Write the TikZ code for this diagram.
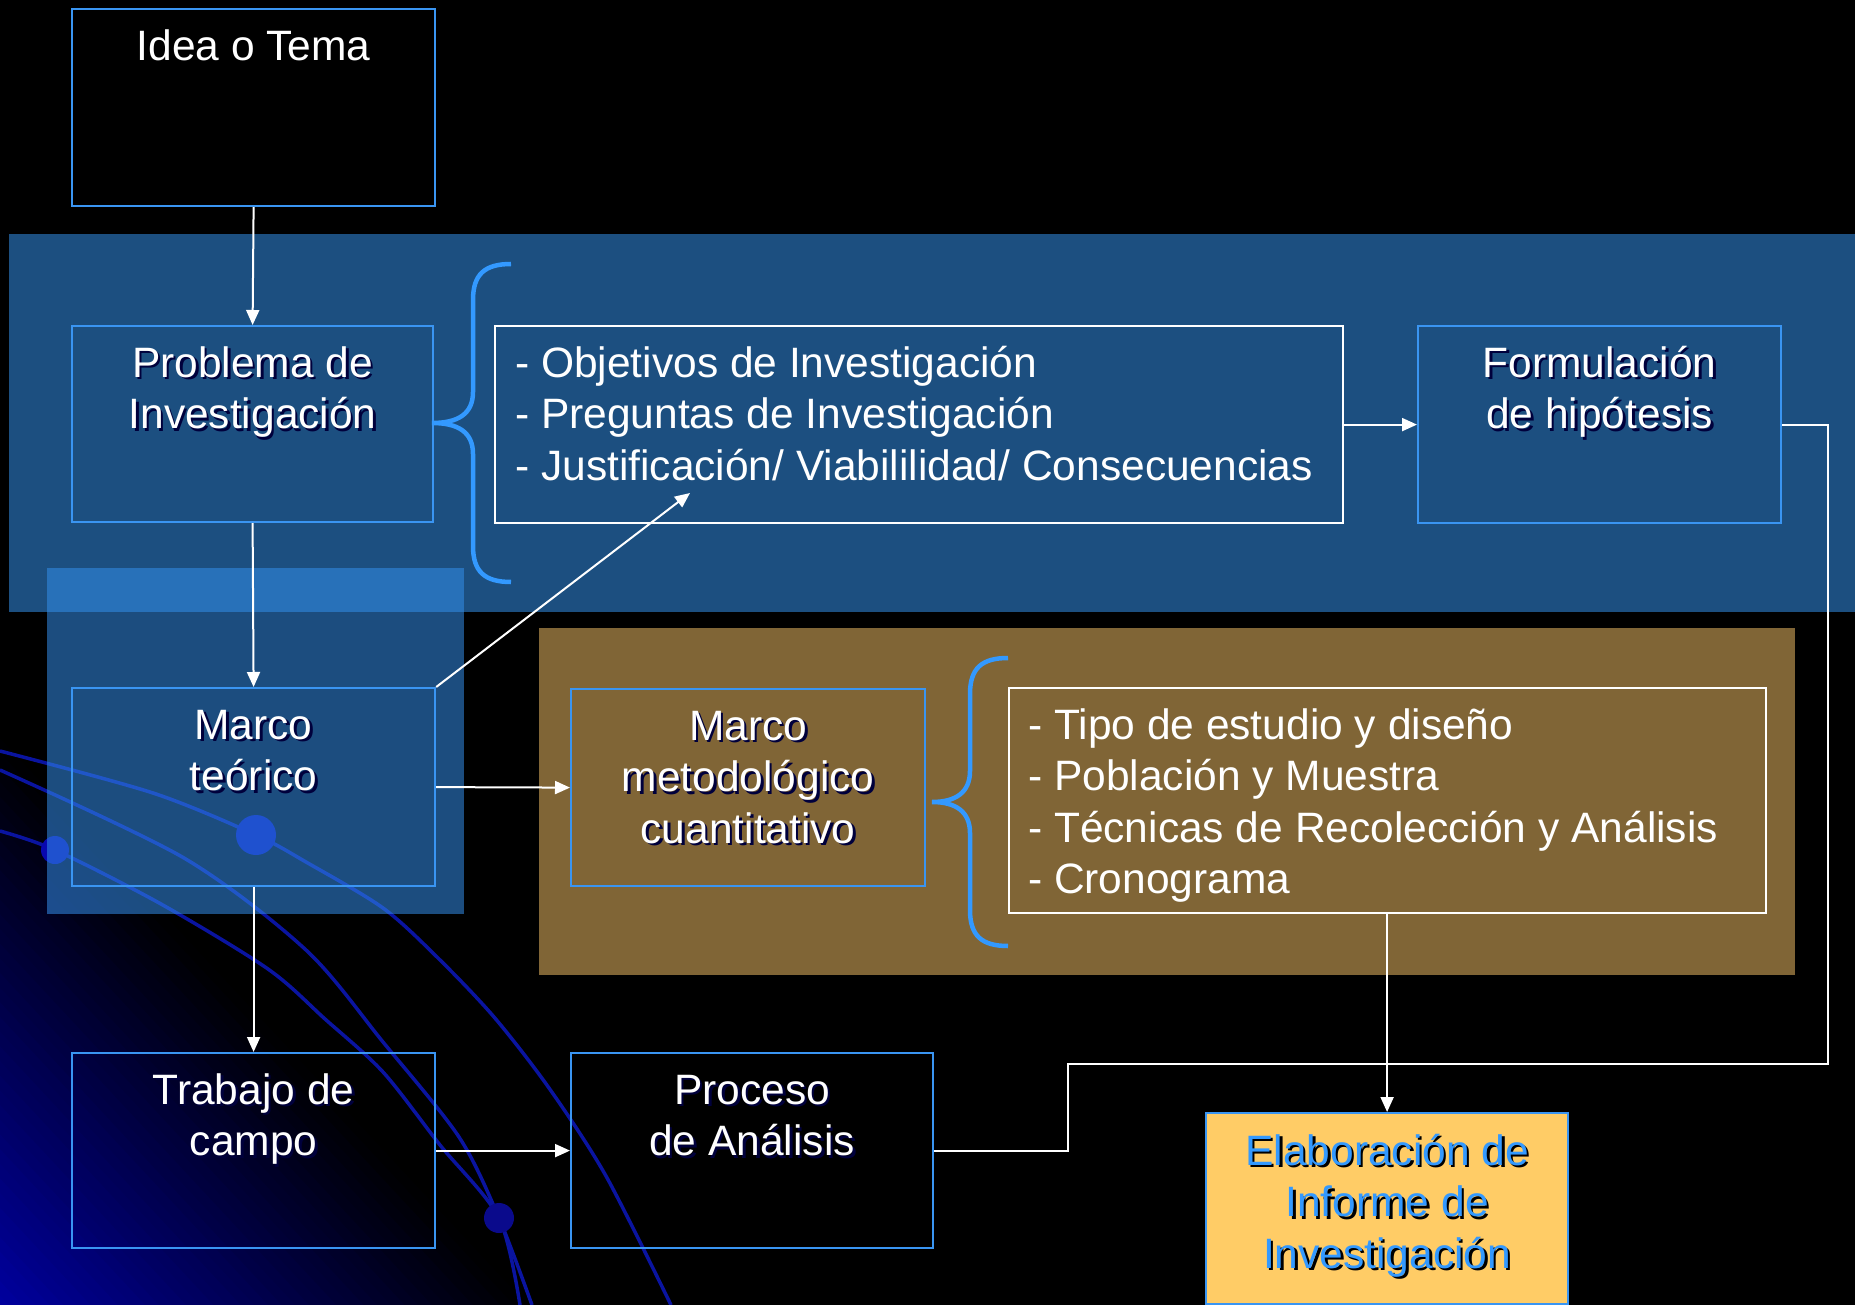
\documentclass[tikz,border=0pt]{standalone}
\usepackage{fontspec}
\setmainfont{Liberation Sans}
\usetikzlibrary{arrows.meta,calc}
\definecolor{bandblue}{HTML}{1C4F80}
\definecolor{lightblue}{HTML}{338EE9}
\definecolor{boxblue}{HTML}{3A95F2}
\definecolor{bracecol}{HTML}{3399FF}
\definecolor{panelbrown}{HTML}{806536}
\definecolor{goldfill}{HTML}{FFCC66}
\definecolor{navyshadow}{HTML}{00003C}
\definecolor{decoline}{HTML}{0A14A0}
\definecolor{decodot}{HTML}{0808B0}
\definecolor{decodark}{HTML}{0A0A8C}
\definecolor{gradblue}{HTML}{0000A0}
\newcommand\shd[2][navyshadow]{\makebox[0pt][l]{\hspace{2.5pt}\raisebox{-2.5pt}{\textcolor{#1}{#2}}}#2}
\newcommand\fstrut{\rule{0pt}{40pt}}

\begin{document}
\begin{tikzpicture}[x=1pt,y=-1pt,
 box/.style={draw=boxblue,line width=2.2pt,rectangle,inner sep=0pt,anchor=north west},
 listbox/.style={draw=white,line width=2.2pt,rectangle,inner sep=0pt,anchor=north west},
 txt/.style={text=white,inner sep=0pt,font=\fontsize{42.5}{51.5}\selectfont,align=center,anchor=north},
 listtxt/.style={text=white,inner sep=0pt,font=\fontsize{42.5}{51.5}\selectfont,align=left,anchor=north west},
 wline/.style={draw=white,line width=2pt},
 arr/.style={wline,-{Triangle[length=15pt,width=13pt]}},
 brace/.style={draw=bracecol,line width=4.5pt},
 deco/.style={draw=decoline,line width=3.5pt}]

\useasboundingbox (0,0) rectangle (1855,1305);
\fill[black] (0,0) rectangle (1855,1305);

% background gradient
\begin{scope}
\clip (0,738) -- (528,1305) -- (0,1305) -- cycle;
\foreach \i in {0,...,39}{
  \pgfmathsetmacro\da{\i*10}
  \pgfmathsetmacro\db{\i*10+11}
  \pgfmathtruncatemacro\pc{min(100,(\i+0.5)*10/390*100)}
  \fill[gradblue!\pc!black] ({-0.732*\da-300*0.681},{738+0.681*\da-300*0.732}) -- ({-0.732*\da+1100*0.681},{738+0.681*\da+1100*0.732}) -- ({-0.732*\db+1100*0.681},{738+0.681*\db+1100*0.732}) -- ({-0.732*\db-300*0.681},{738+0.681*\db-300*0.732}) -- cycle;
}
\end{scope}

% background curves
\draw[deco] plot[smooth] coordinates {(0,751) (153,793) (256,835) (306,862) (383,908) (438,958) (494,1017) (549,1088) (606,1176) (671,1305)};
\draw[deco] plot[smooth] coordinates {(0,770) (184,858) (306,950) (383,1042) (459,1137) (499,1218) (532,1305)};
\draw[deco] plot[smooth] coordinates {(0,831) (55,850) (161,904) (268,969) (325,1019) (383,1072) (440,1145) (499,1218) (520,1305)};
\fill[decodot] (256,835) circle[radius=20pt];
\fill[decodot] (55,850) circle[radius=14pt];
\fill[decodark] (499,1218) circle[radius=15pt];

% panels
\fill[bandblue] (9,234) rectangle (1855,612);
\fill[lightblue,fill opacity=0.55] (47,568) rectangle (464,914);
\fill[panelbrown] (539,628) rectangle (1795,975);

% boxes
\node[box,minimum width=363pt,minimum height=197pt] (idea) at (71,8) {};
\node[box,minimum width=361pt,minimum height=196pt] (prob) at (71,325) {};
\node[listbox,minimum width=848pt,minimum height=197pt] (obj) at (494,325) {};
\node[box,minimum width=363pt,minimum height=197pt] (form) at (1417,325) {};
\node[box,minimum width=363pt,minimum height=198pt] (marco) at (71,687) {};
\node[box,minimum width=354pt,minimum height=197pt] (met) at (570,688) {};
\node[listbox,minimum width=757pt,minimum height=225pt] (tipo) at (1008,687) {};
\node[box,minimum width=363pt,minimum height=195pt] (trab) at (71,1052) {};
\node[box,minimum width=362pt,minimum height=195pt] (proc) at (570,1052) {};
\node[box,fill=goldfill,minimum width=362pt,minimum height=191pt] (elab) at (1205,1112) {};

% texts
\node[txt] (tidea) at ([yshift=-12pt]idea.north) {\fstrut Idea o Tema};
\node[txt] (tprob) at ([yshift=-12pt]prob.north) {\fstrut\shd{Problema de}\\\shd{Investigación}};
\node[listtxt] (tobj) at ([xshift=21pt,yshift=-12pt]obj.north west) {\fstrut- Objetivos de Investigación\\- Preguntas de Investigación\\- Justificación/ Viabililidad/ Consecuencias};
\node[txt] (tform) at ([yshift=-12pt]form.north) {\fstrut\shd{Formulación}\\\shd{de hipótesis}};
\node[txt] (tmarco) at ([yshift=-12pt]marco.north) {\fstrut\shd{Marco}\\\shd{teórico}};
\node[txt] (tmet) at ([yshift=-12pt]met.north) {\fstrut\shd{Marco}\\\shd{metodológico}\\\shd{cuantitativo}};
\node[listtxt] (ttipo) at ([xshift=20pt,yshift=-12pt]tipo.north west) {\fstrut- Tipo de estudio y diseño\\- Población y Muestra\\- Técnicas de Recolección y Análisis\\- Cronograma};
\node[txt] (ttrab) at ([yshift=-12pt]trab.north) {\fstrut\shd{Trabajo de}\\\shd{campo}};
\node[txt] (tproc) at ([yshift=-12pt]proc.north) {\fstrut\shd{Proceso}\\\shd{de Análisis}};
\node[txt,text=bracecol] (telab) at ([yshift=-13pt]elab.north) {\fstrut\shd[black]{Elaboración de}\\\shd[black]{Informe de}\\\shd[black]{Investigación}};

% braces
\draw[brace] (511,264) .. controls (485,264) and (473,274) .. (473,300) -- (473,392) .. controls (473,414) and (458,423) .. (432,423) .. controls (458,423) and (473,432) .. (473,454) -- (473,546) .. controls (473,572) and (485,582) .. (511,582);
\draw[brace] (1008,658) .. controls (982,658) and (970,668) .. (970,694) -- (970,771) .. controls (970,793) and (955,802) .. (932,802) .. controls (955,802) and (970,811) .. (970,833) -- (970,910) .. controls (970,936) and (982,946) .. (1008,946);

% connectors
\draw[arr] (idea.south) -- (prob.north);
\draw[arr] (prob.south) -- (marco.north);
\coordinate (diagend) at (690,493);
\draw[arr] (marco.north east) -- (diagend);
\draw[arr] (marco.east) -- (met.west);
\draw[arr] (marco.south) -- (trab.north);
\draw[arr] (obj.east) -- (form.west);
\draw[arr] (trab.east) -- (proc.west);
\draw[arr] (tipo.south -| elab.north) -- (elab.north);
\coordinate (j1) at (1068,1064);
\coordinate (j2) at (1828,1064);
\draw[wline] (proc.east) -| (j1) -- (j2) |- (form.east);
\end{tikzpicture}
\end{document}
